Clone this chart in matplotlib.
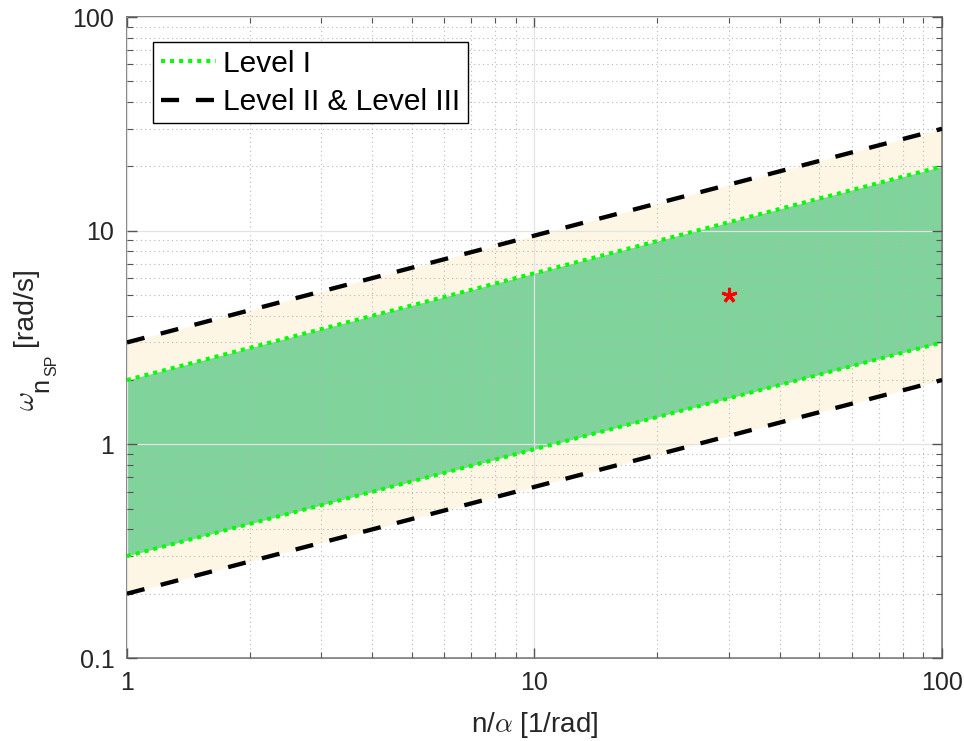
# -*- coding: utf-8 -*-
# short period frequency requirement chart

import numpy as np
import matplotlib as mpl
mpl.use('Agg')
import matplotlib.pyplot as plt
from matplotlib.ticker import FuncFormatter, LogLocator, NullFormatter

plt.rcParams['font.family'] = ['Liberation Sans', 'DejaVu Sans']
plt.rcParams['mathtext.fontset'] = 'cm'

# data
x_edges = [1, 100]
level1_upper = [2, 20]
level1_lower = [0.3, 3]
level2_upper = [3, 30]
level2_lower = [0.2, 2]
point_x = [30]
point_y = [5]

x_ticks = [1, 10, 100]
y_ticks = [0.1, 1, 10, 100]

TXT = '#262626'
W, H = 964, 741

fig = plt.figure(figsize=(W / 100, H / 100), dpi=100)
ax = fig.add_axes([0.1317, 0.112, 0.8455, 0.865])

ax.fill_between(x_edges, level2_lower, level2_upper, color='#fdf6e4', lw=0, zorder=1)
ax.fill_between(x_edges, level1_lower, level1_upper, color='#7fd39b', lw=0, zorder=1.1)

dot = (0, (1, 1.25))
dash = (0, (4.2, 3.9))
ax.plot(x_edges, level1_upper, color='#00ff00', lw=2.9, ls=dot, zorder=3,
        label='Level I')
ax.plot(x_edges, level1_lower, color='#00ff00', lw=2.9, ls=dot, zorder=3)
ax.plot(x_edges, level2_upper, color='black', lw=3.1, ls=dash, zorder=3,
        label='Level II & Level III')
ax.plot(x_edges, level2_lower, color='black', lw=3.1, ls=dash, zorder=3)

ax.plot(point_x, point_y, ls='none', marker=(5, 2, 0), ms=11, mew=2.2,
        color='red', zorder=4)

ax.set_xscale('log')
ax.set_yscale('log')
ax.set_xlim(1, 100)
ax.set_ylim(0.1, 100)
ax.set_xticks(x_ticks)
ax.set_yticks(y_ticks)
fmt = FuncFormatter(lambda v, p: '%g' % v)
ax.xaxis.set_major_formatter(fmt)
ax.yaxis.set_major_formatter(fmt)
ax.xaxis.set_minor_locator(LogLocator(base=10, subs=np.arange(2, 10)))
ax.yaxis.set_minor_locator(LogLocator(base=10, subs=np.arange(2, 10)))
ax.xaxis.set_minor_formatter(NullFormatter())
ax.yaxis.set_minor_formatter(NullFormatter())

ax.set_axisbelow(False)
ax.grid(True, which='major', color='#e3e3e3', lw=0.9, ls='-')
ax.grid(True, which='minor', color='#b8b8b8', lw=0.8, ls=(0, (1, 3)))

ax.tick_params(which='both', direction='in', top=True, right=True,
               color='#555555', labelcolor=TXT, labelsize=18)
ax.tick_params(which='major', length=7, width=1, pad=9)
ax.tick_params(which='minor', length=4, width=0.8)
for s in ax.spines.values():
    s.set_color('#666666')
    s.set_linewidth(1.1)

ax.set_xlabel(r'n/$\alpha$ [1/rad]', fontsize=20, color=TXT, labelpad=11)

# y label built from pieces (big subscript like the original)
def ylab(x, y, s, size):
    fig.text(x / W, 1 - y / H, s, fontsize=size, color=TXT, rotation=90,
             rotation_mode='anchor', ha='left', va='baseline')

ylab(34, 411, r'$\omega$', 21)
ylab(48, 392, 'n', 18)
ylab(56, 376, 'SP', 11.5)
ylab(32, 346, '[rad/s]', 20.5)

leg = ax.legend(loc='upper left', bbox_to_anchor=(0.032, 0.961), borderaxespad=0,
                fontsize=21.5, frameon=True, fancybox=False, edgecolor='black',
                framealpha=1, handlelength=1.85, handletextpad=0.25,
                borderpad=0.25, labelspacing=0.35)
leg.get_frame().set_linewidth(1.0)

plt.savefig('out.png', dpi=100)
plt.close('all')
